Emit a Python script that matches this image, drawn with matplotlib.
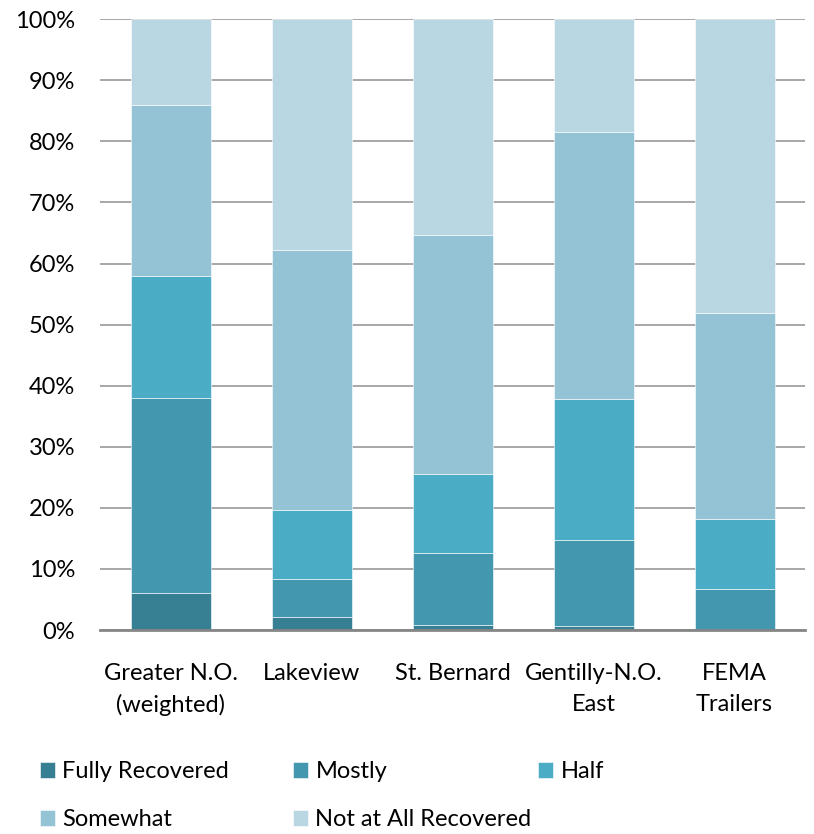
import numpy as np
import matplotlib.pyplot as plt

plt.rcParams['font.family'] = ['Lato', 'DejaVu Sans']

categories = ['Greater N.O.\n(weighted)', 'Lakeview', 'St. Bernard', 'Gentilly-N.O.\nEast', 'FEMA\nTrailers']
fully = [6.0, 2.1, 0.8, 0.65, 0.0]
mostly = [32.0, 6.2, 11.8, 14.1, 6.7]
half = [20.0, 11.3, 12.9, 23.1, 11.5]
somewhat = [28.0, 42.6, 39.1, 43.7, 33.7]
not_at_all = [14.0, 37.8, 35.4, 18.5, 48.1]

series = [('Fully Recovered', fully, '#377f93'),
          ('Mostly', mostly, '#4397ae'),
          ('Half', half, '#4bacc6'),
          ('Somewhat', somewhat, '#93c3d5'),
          ('Not at All Recovered', not_at_all, '#b9d7e3')]

fig = plt.figure(figsize=(8.14, 8.34), dpi=100)
ax = fig.add_axes([0.123, 0.2446, 0.866, 0.7324])

x = np.arange(len(categories))
bottom = np.zeros(len(categories))
handles = []
for name, vals, color in series:
    vals = np.array(vals)
    h = ax.bar(x, vals, bottom=bottom, width=0.567, color=color, label=name,
               edgecolor='white', linewidth=0.4, zorder=3)
    handles.append(h)
    bottom += vals

ax.set_xlim(-0.5, len(categories) - 0.5)
ax.set_ylim(0, 100)
ax.set_yticks(np.arange(0, 101, 10))
ax.set_yticklabels([f'{v}%' for v in range(0, 101, 10)])
ax.set_xticks(x)
ax.set_xticklabels(categories, linespacing=1.55)
ax.tick_params(axis='both', length=0, labelsize=17, colors='black')
ax.tick_params(axis='x', pad=24)
ax.tick_params(axis='y', pad=18)
ax.grid(axis='y', color='#a0a0a0', linewidth=1.3, zorder=0)
for s in ['left', 'right', 'top']:
    ax.spines[s].set_visible(False)
ax.spines['bottom'].set_color('#868686')
ax.spines['bottom'].set_linewidth(2)
ax.spines['bottom'].set_zorder(4)

# legend laid out like Excel: fixed grid of 3 columns, rows left to right
slots = [(40, 772), (293, 772), (538, 772), (40, 820), (293, 820)]
for h, (name, _, _), (px, py) in zip(handles, series, slots):
    fig.legend([h], [name], loc='center left', bbox_to_anchor=(px / 814, 1 - py / 834),
               frameon=False, fontsize=17, handlelength=0.65, handleheight=0.65,
               handletextpad=0.3, borderaxespad=0, borderpad=0)

fig.savefig('out.png', dpi=100)
